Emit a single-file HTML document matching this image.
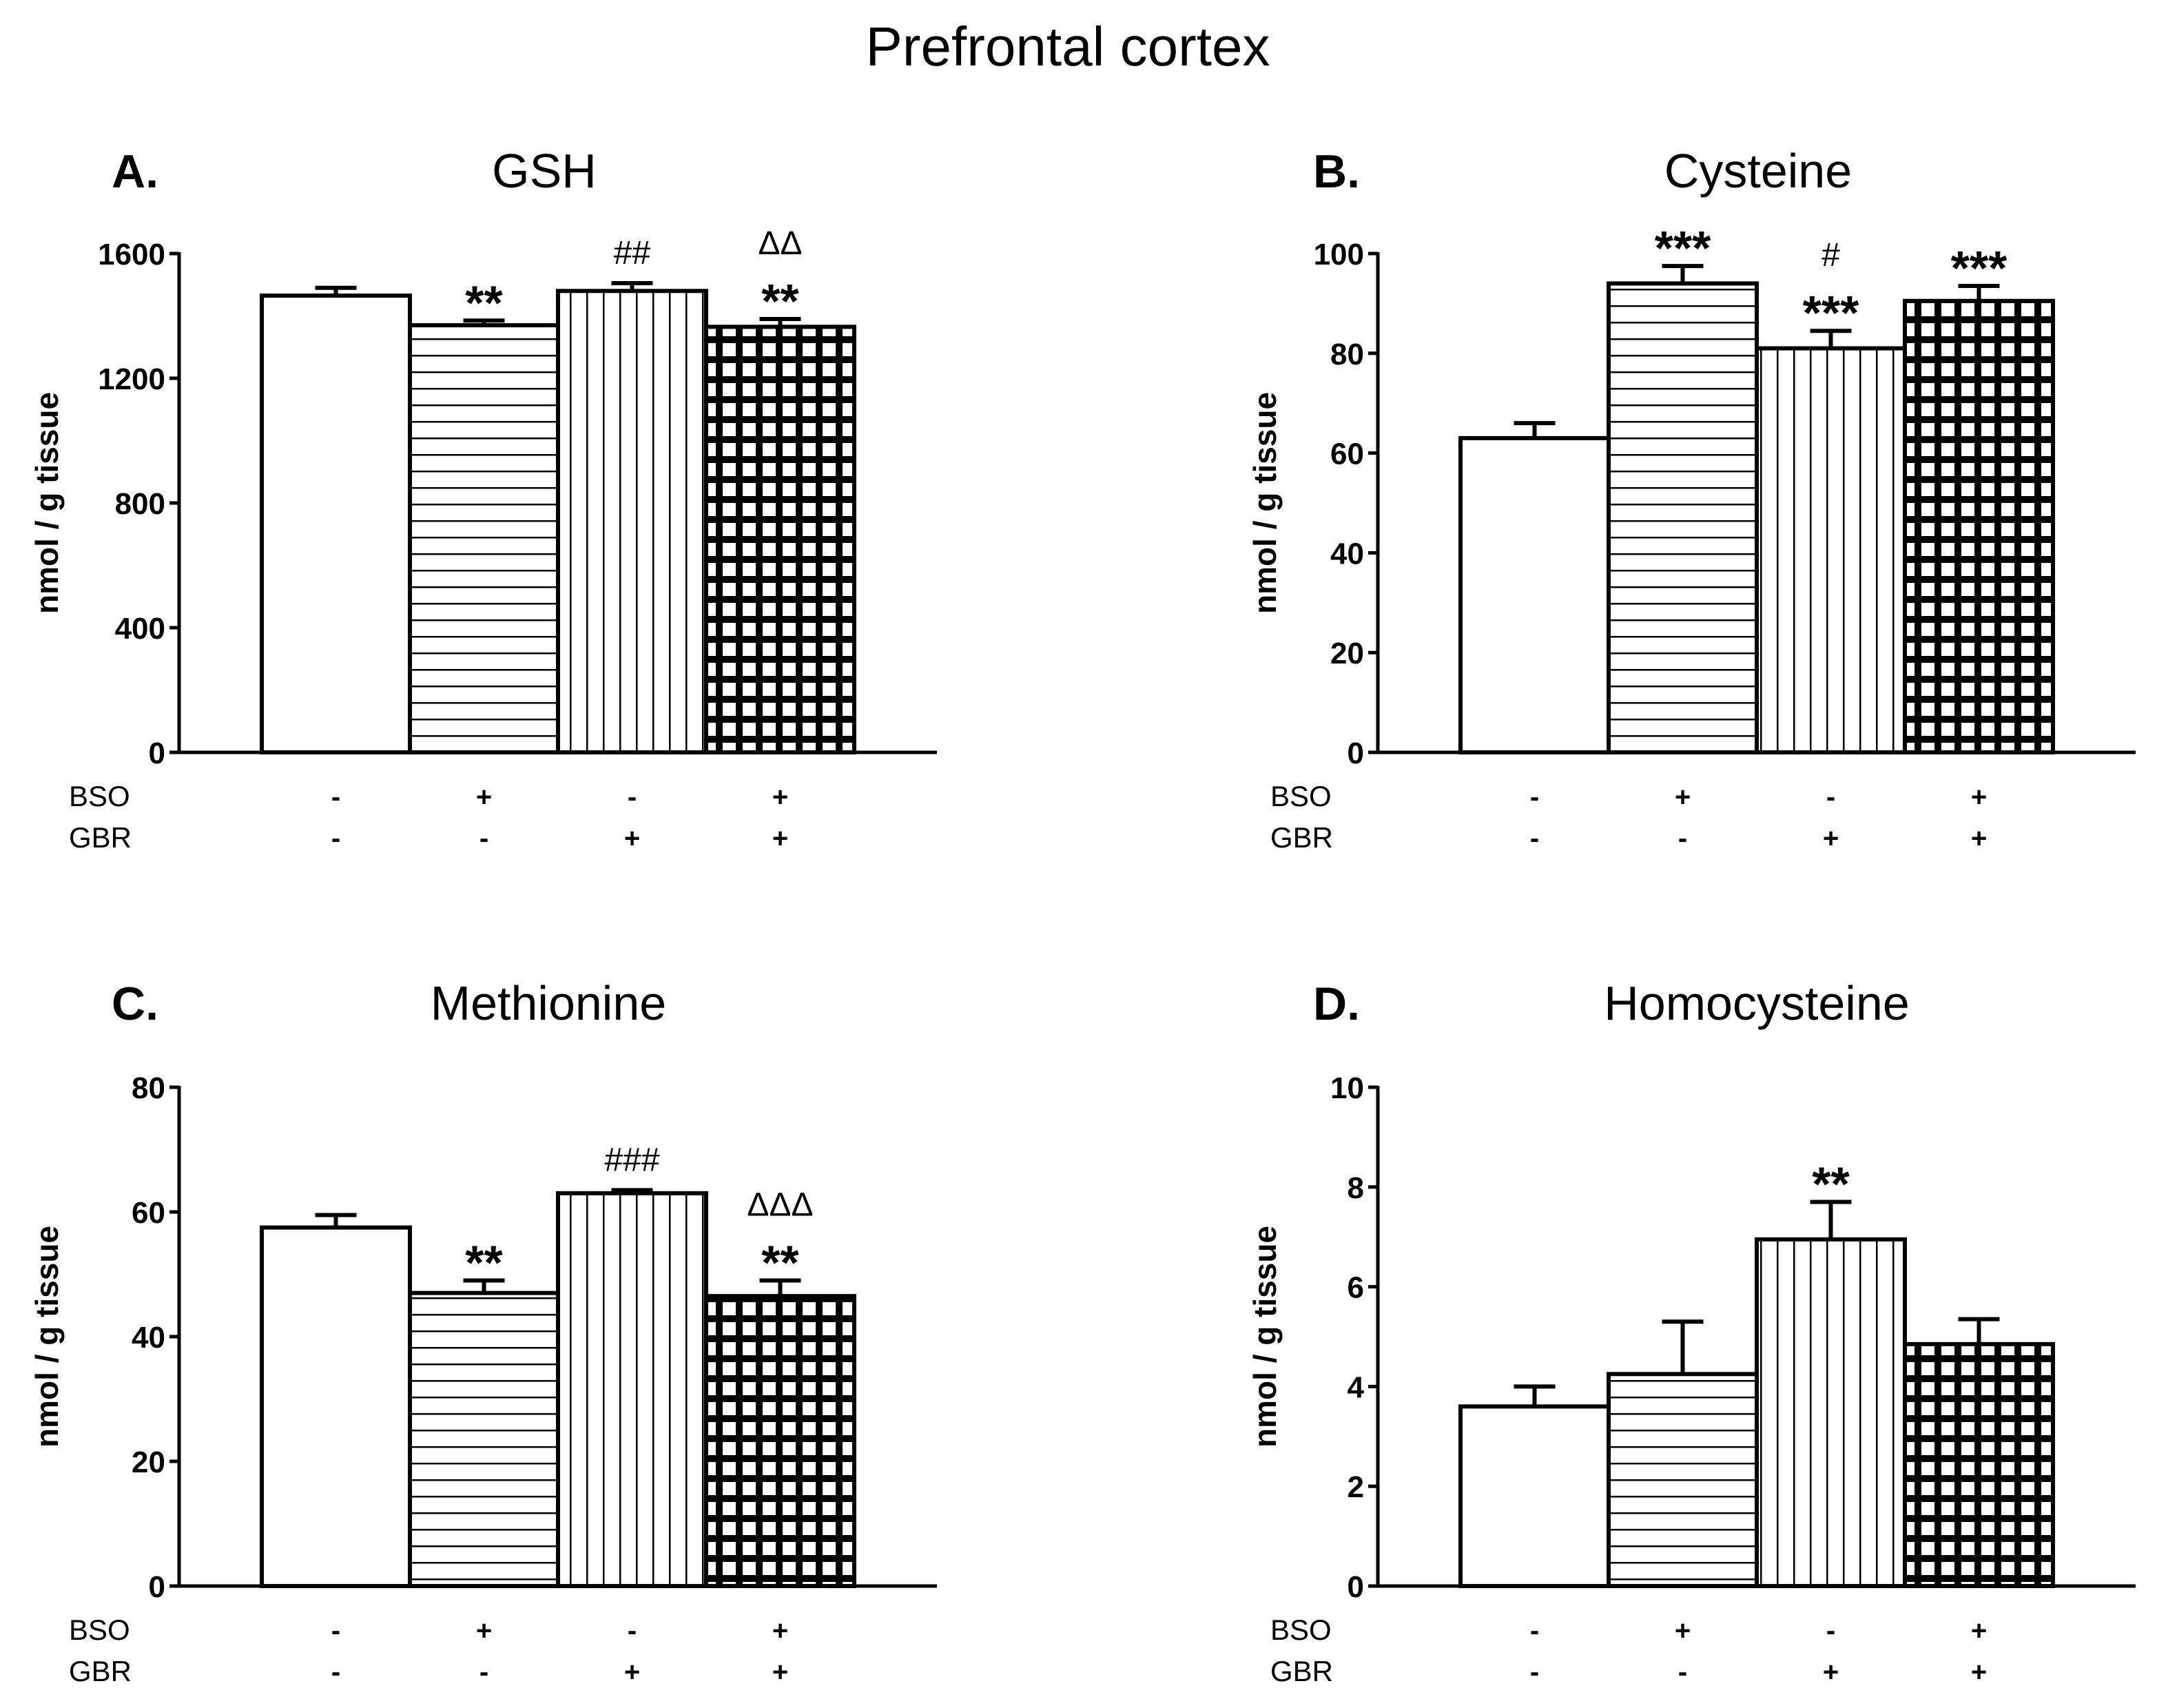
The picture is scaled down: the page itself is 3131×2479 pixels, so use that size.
<!DOCTYPE html>
<html><head><meta charset="utf-8"><style>
html,body{margin:0;padding:0;background:#fff;}
svg{display:block;font-family:"Liberation Sans",sans-serif;}
</style></head><body>
<svg id="c" width="3131" height="2479" viewBox="0 0 3131 2479">
<defs>
<pattern id="hz" width="24" height="24" patternUnits="userSpaceOnUse"><rect width="24" height="24" fill="#fff"/><rect y="11" width="24" height="2.5" fill="#000"/></pattern>
<pattern id="vt" width="24" height="24" patternUnits="userSpaceOnUse"><rect width="24" height="24" fill="#fff"/><rect x="11" width="2.5" height="24" fill="#000"/></pattern>
<pattern id="ck" width="29" height="29" patternUnits="userSpaceOnUse"><rect width="29" height="29" fill="#000"/><rect x="5" y="5" width="19" height="19" fill="#fff"/></pattern>
</defs>
<text x="1550" y="95" font-size="80" text-anchor="middle">Prefrontal cortex</text>
</svg>
<script>
const groups = ["1","2","3","4"];
const gshMean = [1465,1370,1480,1365];
const gshErr = [1490,1385,1505,1390];
const cysMean = [63,94,81,90.5];
const cysErr = [66,97.5,84.5,93.5];
const metMean = [57.5,47,63,46.5];
const metErr = [59.5,49,63.5,49];
const hcyMean = [3.6,4.25,6.95,4.85];
const hcyErr = [4.0,5.3,7.7,5.35];
const gshTicks = [0,400,800,1200,1600];
const cysTicks = [0,20,40,60,80,100];
const metTicks = [0,20,40,60,80];
const hcyTicks = [0,2,4,6,8,10];
const bsoSigns = ["-","+","-","+"];
const gbrSigns = ["-","-","+","+"];
const gshAnn = [[],["**"],["##"],["**","ΔΔ"]];
const cysAnn = [[],["***"],["***","#"],["***"]];
const metAnn = [[],["**"],["###"],["**","ΔΔΔ"]];
const hcyAnn = [[],[],["**"],[]];

const svg = document.getElementById('c');
const NS = "http://www.w3.org/2000/svg";
function mk(tag, attrs, parent){const e=document.createElementNS(NS,tag);for(const k in attrs)e.setAttribute(k,attrs[k]);(parent||svg).appendChild(e);return e;}
const fills = ["#fff","url(#hz)","url(#vt)","url(#ck)"];

function panel(o){
  const g = mk('g',{});
  
  
  const ax=o.ax, y0=o.y0, y1=o.y1, max=o.max;
  const ys = v => y0 - (v/max)*(y0-y1);
  const barL = o.barL, bw = o.bw;
  const xs = i => barL + i*bw;
  let t = mk('text',{x:o.letterX,y:o.titleY,'font-size':68,'font-weight':'bold'},g);t.textContent=o.letter;
  
  
  t = mk('text',{x:o.titleX,y:o.titleY,'font-size':70,'text-anchor':'middle'},g);t.textContent=o.title;
  
  
  t = mk('text',{x:0,y:0,'font-size':46,'font-weight':'bold','text-anchor':'middle',transform:`translate(${o.ylx},${(y0+y1)/2}) rotate(-90)`},g);
  t.textContent='nmol / g tissue';
  
  
  o.mean.forEach((v,i)=>{
    const x=xs(i), top=ys(v), e=ys(o.err[i]), cx=x+bw/2;
    const eb = mk('line',{x1:cx,y1:top,x2:cx,y2:e,stroke:'#000','stroke-width':6},g);
    
    
    const cap = mk('line',{x1:cx-30,y1:e,x2:cx+30,y2:e,stroke:'#000','stroke-width':6},g);
    
    
    const r = mk('rect',{x:x,y:top,width:bw,height:y0-top,fill:fills[i],stroke:'#000','stroke-width':6},g);
    
    
    o.ann[i].forEach((s,k)=>{
      const isStar = s.indexOf('*')>=0;
      const yy = e - 28 - k*66;
      const a = mk('text',{x:cx,y:isStar?yy+26:yy,'font-size':isStar?70:48,'font-weight':isStar?'bold':'normal','text-anchor':'middle'},g);
      a.textContent=s;
      
      
    });
    const b = mk('text',{x:cx,y:o.bsoY+14,'font-size':40,'font-weight':'bold','text-anchor':'middle'},g);b.textContent=bsoSigns[i];
    
    
    const c = mk('text',{x:cx,y:o.bsoY+74,'font-size':40,'font-weight':'bold','text-anchor':'middle'},g);c.textContent=gbrSigns[i];
    
    
  });
  const ya = mk('line',{x1:ax,y1:y1-2,x2:ax,y2:y0+2,stroke:'#000','stroke-width':5},g);
  
  
  const xa = mk('line',{x1:ax-14,y1:y0,x2:o.axEnd,y2:y0,stroke:'#000','stroke-width':5},g);
  
  
  o.ticks.forEach(tv=>{
    const y=ys(tv);
    const tk = mk('line',{x1:ax-14,y1:y,x2:ax,y2:y,stroke:'#000','stroke-width':5},g);
    
    
    const tl = mk('text',{x:ax-20,y:y+16,'font-size':44,'font-weight':'bold','text-anchor':'end'},g);tl.textContent=tv;
    
    
  });
  let l = mk('text',{x:o.labX,y:o.bsoY+14,'font-size':42},g);l.textContent='BSO';
  
  
  l = mk('text',{x:o.labX,y:o.bsoY+74,'font-size':42},g);l.textContent='GBR';
  
  
}
panel({id:'gsh',letter:'A.',title:'GSH',letterX:162,titleX:790,titleY:272,ax:260,axEnd:1360,y0:1092,y1:368,max:1600,barL:380,bw:215,ticks:gshTicks,mean:gshMean,err:gshErr,ann:gshAnn,ylx:84,labX:100,bsoY:1156});
panel({id:'cysteine',letter:'B.',title:'Cysteine',letterX:1906,titleX:2552,titleY:272,ax:2000,axEnd:3100,y0:1092,y1:368,max:100,barL:2120,bw:215,ticks:cysTicks,mean:cysMean,err:cysErr,ann:cysAnn,ylx:1852,labX:1844,bsoY:1156});
panel({id:'methionine',letter:'C.',title:'Methionine',letterX:162,titleX:796,titleY:1480,ax:260,axEnd:1360,y0:2302,y1:1578,max:80,barL:380,bw:215,ticks:metTicks,mean:metMean,err:metErr,ann:metAnn,ylx:84,labX:100,bsoY:2366});
panel({id:'homocysteine',letter:'D.',title:'Homocysteine',letterX:1906,titleX:2550,titleY:1480,ax:2000,axEnd:3100,y0:2302,y1:1578,max:10,barL:2120,bw:215,ticks:hcyTicks,mean:hcyMean,err:hcyErr,ann:hcyAnn,ylx:1852,labX:1844,bsoY:2366});
</script>
</body></html>
